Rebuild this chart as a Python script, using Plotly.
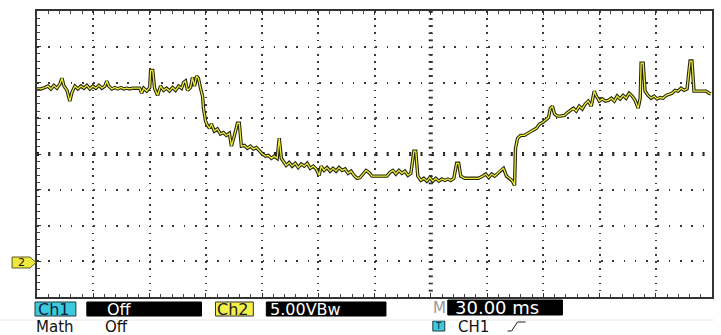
import plotly.graph_objects as go

# Channel 2 capture, 30 ms/div, 5 V/div (ground marker at 0 V)
time_ms = [
    0.0, 2.1, 4.3, 5.8, 7.4, 9.0, 10.6, 12.2, 13.3, 14.4, 16.0, 17.5, 18.6, 20.2, 21.8, 23.4,
    25.0, 26.6, 28.2, 29.8, 31.4, 33.0, 34.6, 36.2, 37.2, 38.3, 39.9, 41.5, 43.1, 44.7, 46.3,
    47.9, 49.4, 51.0, 53.2, 54.8, 55.8, 56.9, 58.5, 60.1, 60.6, 61.7, 62.7, 64.3, 65.9, 67.5,
    69.1, 70.7, 72.3, 73.9, 75.5, 77.1, 78.2, 79.2, 80.3, 81.9, 82.9, 84.0, 85.1, 86.1, 87.2,
    88.3, 88.8, 89.3, 89.9, 90.9, 92.0, 93.0, 94.6, 96.2, 97.8, 99.4, 101.0, 102.6, 103.7,
    105.3, 106.9, 107.9, 109.0, 110.6, 112.2, 113.8, 115.4, 117.0, 118.6, 120.2, 121.8, 123.4,
    125.0, 126.5, 128.1, 129.2, 130.3, 131.3, 132.9, 134.5, 136.1, 137.7, 139.3, 140.9, 142.5,
    144.1, 145.7, 147.3, 148.9, 150.5, 151.5, 153.1, 154.7, 156.3, 157.9, 159.5, 161.1, 162.7,
    164.3, 165.9, 167.5, 169.1, 170.7, 172.3, 173.9, 175.5, 177.1, 178.7, 180.8, 183.4, 185.0,
    186.6, 188.2, 189.8, 191.4, 193.0, 194.6, 196.2, 197.8, 199.4, 201.0, 202.0, 203.1, 204.7,
    206.3, 207.9, 209.5, 211.1, 212.7, 214.3, 215.9, 217.5, 219.1, 220.7, 222.3, 223.8, 224.9,
    226.0, 228.1, 230.2, 232.9, 235.5, 237.7, 239.3, 240.9, 242.5, 244.1, 245.6, 247.2, 248.8,
    250.4, 252.0, 253.6, 254.7, 255.2, 256.3, 257.9, 260.0, 262.1, 264.3, 266.4, 268.0, 269.6,
    271.2, 272.8, 273.8, 274.9, 276.0, 277.5, 279.1, 281.3, 282.9, 284.5, 286.1, 287.6, 289.2,
    290.8, 292.4, 294.0, 295.6, 297.2, 298.3, 299.9, 301.5, 303.1, 304.7, 306.3, 307.9, 309.4,
    311.0, 312.6, 314.2, 315.8, 317.4, 319.0, 320.6, 321.7, 322.2, 323.3, 324.3, 325.9, 327.5,
    329.1, 330.7, 332.3, 333.9, 335.5, 337.1, 338.7, 340.3, 341.9, 343.5, 345.1, 346.7, 348.3,
    349.3, 350.4, 352.5, 354.6, 356.8, 358.4, 359.4,
]
ch2_volts = [
    24.1, 24.1, 24.3, 24.5, 24.1, 24.6, 24.2, 24.8, 25.6, 24.5, 23.9, 22.4, 23.6, 24.5, 24.1, 24.5,
    24.2, 24.6, 24.1, 24.5, 24.2, 24.6, 24.2, 24.5, 25.2, 24.5, 24.1, 24.3, 24.1, 24.3, 24.1,
    24.2, 24.1, 24.2, 24.2, 24.2, 23.5, 24.2, 23.8, 24.3, 26.7, 26.7, 24.2, 23.2, 24.5, 23.9,
    24.2, 23.8, 24.3, 23.9, 24.5, 24.2, 25.0, 25.2, 23.9, 24.3, 25.7, 24.5, 25.9, 25.6, 24.2,
    23.1, 21.4, 20.3, 19.6, 19.0, 18.6, 19.2, 18.2, 18.5, 17.8, 18.0, 17.6, 17.9, 16.1,
    17.6, 19.3, 19.3, 16.1, 16.2, 15.8, 16.1, 15.7, 15.9, 15.4, 15.0, 14.7, 14.8,
    14.4, 14.7, 14.4, 17.2, 14.4, 14.0, 13.4, 13.8, 13.3, 13.7, 13.1, 13.6, 13.3,
    13.7, 13.0, 13.3, 12.9, 12.0, 13.3, 12.7, 13.1, 12.6, 13.0, 12.6, 13.1, 12.7,
    12.9, 12.3, 12.6, 12.0, 11.6, 11.7, 12.2, 12.7, 12.4, 11.9, 11.9, 11.9, 11.9,
    11.9, 12.4, 12.7, 12.2, 12.7, 12.3, 12.6, 12.0, 12.3, 15.4, 15.4, 11.9, 11.3,
    11.6, 11.2, 11.7, 11.2, 11.6, 11.2, 11.5, 11.3, 11.5, 11.3, 11.6, 13.7, 13.7,
    11.9, 11.6, 11.6, 11.6, 11.6, 11.9, 12.2, 11.7, 12.2, 11.9, 12.3, 12.7, 13.0,
    11.9, 11.6, 11.2, 10.6, 15.8, 17.2, 17.6, 17.6, 18.0, 18.3, 18.6, 19.2, 19.4,
    19.7, 20.1, 21.4, 21.7, 20.6, 20.3, 20.3, 20.4, 20.8, 21.1, 21.4, 21.0, 21.7,
    21.3, 22.0, 22.4, 21.7, 23.8, 23.1, 22.4, 22.7, 22.4, 22.5, 22.8, 22.4, 23.1,
    22.7, 23.2, 22.8, 23.5, 23.1, 22.5, 21.4, 22.8, 27.7, 27.7, 23.8, 23.2, 22.8,
    23.1, 22.7, 22.9, 22.8, 23.2, 23.4, 23.5, 23.9, 23.8, 24.2, 23.9, 24.1, 28.0,
    28.0, 23.8, 23.8, 23.8, 23.8, 23.5, 23.4,
]

# Status bar texts
ch1_label, ch1_state = "Ch1", "Off"
ch2_label, ch2_scale = "Ch2", "5.00VBw"
timebase = "30.00 ms"
math_label, math_state = "Math", "Off"
trigger_src = "CH1"

X_RANGE = [0, 360]      # 12 div x 30 ms
Y_RANGE = [-5, 35]      # 8 div x 5 V

W, H = 721, 335
ML, MR, MT, MB = 37, 7, 11, 38
PW, PH = W - ML - MR, H - MT - MB


def fx(px):
    return (px - ML) / PW


def fy(py):
    return (H - MB - py) / PH


GRID = "#3a3a3a"
FONT = "DejaVu Sans"

fig = go.Figure()
fig.add_trace(go.Scatter(x=time_ms, y=ch2_volts, mode="lines",
                         line=dict(color="#24240c", width=3.4),
                         hoverinfo="skip", showlegend=False))
fig.add_trace(go.Scatter(x=time_ms, y=ch2_volts, mode="lines",
                         line=dict(color="#ecec3a", width=1.3),
                         showlegend=False))

shapes = []
# centre cross with heavier division marks
shapes.append(dict(type="line", xref="x", yref="y", x0=X_RANGE[0], x1=X_RANGE[1], y0=15, y1=15,
                   line=dict(color="#111", width=4, dash="2px,9.28px"), layer="below"))
shapes.append(dict(type="line", xref="x", yref="y", x0=210, x1=210, y0=Y_RANGE[1], y1=Y_RANGE[0],
                   line=dict(color="#111", width=4, dash="1.6px,5.55px"), layer="below"))


# status bar boxes
def rect(x0, y0, x1, y1, fill, line="#222", lw=1):
    shapes.append(dict(type="rect", xref="paper", yref="paper",
                       x0=fx(x0), x1=fx(x1), y0=fy(y0), y1=fy(y1),
                       fillcolor=fill, line=dict(color=line, width=lw), layer="above"))


rect(35, 302, 76, 316, "#3ccbdc", "#1a3a40")
rect(87, 302, 202, 316, "#000000", "#000000")
rect(216, 302, 254, 316, "#f4f04a", "#333")
rect(267, 302, 387, 316, "#000000", "#000000")
rect(449, 300, 564, 315, "#000000", "#000000")
rect(434, 321, 446, 331, "#3ccbdc", "#1a3a40")

# separator
shapes.append(dict(type="line", xref="paper", yref="paper", x0=fx(0), x1=fx(716),
                   y0=fy(320), y1=fy(320), line=dict(color="#e8e8e8", width=1)))

# channel 2 ground marker
gx = [12, 30, 36, 30, 12]
gy = [257, 257, 262.5, 268, 268]
path = "M" + " L".join(f"{fx(a):.5f},{fy(b):.5f}" for a, b in zip(gx, gy)) + " Z"
shapes.append(dict(type="path", xref="paper", yref="paper", path=path,
                   fillcolor="#eee83a", line=dict(color="#5a5a20", width=1)))

# rising-edge trigger symbol
ex = [509, 513, 519, 527]
ey = [331, 331, 322, 322]
epath = "M" + " L".join(f"{fx(a):.5f},{fy(b):.5f}" for a, b in zip(ex, ey))
shapes.append(dict(type="path", xref="paper", yref="paper", path=epath,
                   line=dict(color="#222", width=1)))

annotations = []


def label(px, py, text, color="#111", size=16, anchor="left"):
    annotations.append(dict(x=fx(px), y=fy(py), xref="paper", yref="paper", text=text,
                            showarrow=False, xanchor=anchor, yanchor="middle",
                            font=dict(family=FONT, size=size, color=color)))


label(36, 309.5, ch1_label, "#0a1a40", 16)
label(105, 309.5, ch1_state, "#ffffff", 16)
label(216, 309.5, ch2_label, "#1a1a20", 16)
label(269, 309.5, ch2_scale, "#ffffff", 16)
label(432, 308, "M", "#999999", 15)
label(454, 307.5, timebase, "#ffffff", 18)
label(34, 326.5, math_label, "#111", 15)
label(103, 326.5, math_state, "#111", 15)
label(440, 326, "T", "#0a1a40", 9, "center")
label(457, 326.5, trigger_src, "#111", 15)
label(21, 262.5, "2", "#111", 11, "center")

fig.update_layout(
    width=W, height=H,
    margin=dict(l=ML, r=MR, t=MT, b=MB, pad=0),
    paper_bgcolor="white", plot_bgcolor="white",
    shapes=shapes, annotations=annotations,
    showlegend=False,
    xaxis=dict(range=X_RANGE, dtick=30, tick0=0, showgrid=True, gridcolor=GRID, gridwidth=1.8,
               griddash="1.6px,5.55px", zeroline=False, showticklabels=False,
               ticks="inside", ticklen=4, tickcolor="#333",
               minor=dict(dtick=6, ticks="inside", ticklen=3, tickcolor="#444", showgrid=False),
               showline=True, linecolor="#333", linewidth=1.5, mirror="ticks", fixedrange=True),
    yaxis=dict(range=Y_RANGE, dtick=5, tick0=-5, showgrid=True, gridcolor=GRID, gridwidth=1.8,
               griddash="1.6px,9.68px", zeroline=False, showticklabels=False,
               ticks="inside", ticklen=4, tickcolor="#333",
               minor=dict(dtick=1, ticks="inside", ticklen=3, tickcolor="#444", showgrid=False),
               showline=True, linecolor="#333", linewidth=1.5, mirror=True, fixedrange=True),
)

fig.write_html("out.html", config={"displayModeBar": False})
